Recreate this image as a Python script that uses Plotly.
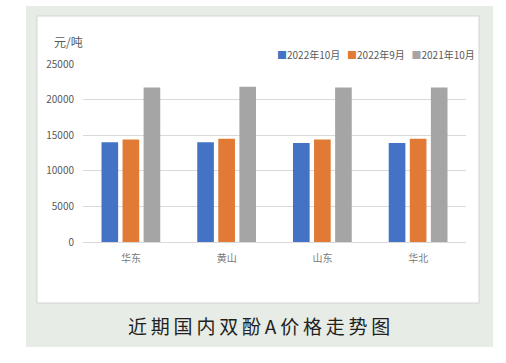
import plotly.graph_objects as go

categories = ["华东", "黄山", "山东", "华北"]
series_names = ["2022年10月", "2022年9月", "2021年10月"]
oct_2022 = [14000, 14000, 13900, 13900]
sep_2022 = [14400, 14500, 14400, 14500]
oct_2021 = [21700, 21800, 21700, 21700]
y_ticks = [0, 5000, 10000, 15000, 20000, 25000]
colors = ["#4472C4", "#E07A35", "#A5A5A5"]
chart_title = "近期国内双酚A价格走势图"
unit_label = "元/吨"

W, H = 506, 363
L, R, T, B = 83, 466, 64, 242  # plot area in px

def px(x):
    return (x - L) / (R - L)

def py(y):
    return (B - y) / (B - T)

fig = go.Figure()
for name, vals, c in zip(series_names, [oct_2022, sep_2022, oct_2021], colors):
    fig.add_trace(go.Bar(x=categories, y=vals, name=name, marker=dict(color=c, line=dict(width=0)),
                         hoverinfo="skip"))

font_cjk = "Noto Sans CJK SC"
legend_html = "&nbsp;&nbsp; ".join(
    f"<span style='color:{c}'>■</span>{n}" for n, c in zip(series_names, colors)
)
spaced_title = "\u2009".join(chart_title)

fig.update_layout(
    width=W, height=H,
    margin=dict(l=L, r=W - R, t=T, b=H - B),
    paper_bgcolor="white",
    plot_bgcolor="rgba(0,0,0,0)",
    barmode="group",
    bargap=0.34,
    bargroupgap=0.21,
    font=dict(family=font_cjk, size=10, color="#595959"),
    showlegend=False,
    xaxis=dict(showgrid=False, showline=True, linecolor="#d9d9d9", linewidth=1,
               tickfont=dict(size=10, color="#7a7a7a"), ticks="", fixedrange=True,
               ticklabelstandoff=7),
    yaxis=dict(range=[0, 25000], tickvals=y_ticks, ticktext=[str(v) for v in y_ticks],
               showgrid=True, gridcolor="#d9d9d9", gridwidth=1, zeroline=False,
               tickfont=dict(size=10, color="#595959"), ticks="", ticklen=0,
               ticklabelstandoff=8, fixedrange=True),
    shapes=[
        dict(type="rect", xref="paper", yref="paper", x0=px(26), x1=px(493), y0=py(347), y1=py(6),
             fillcolor="#E7ECE7", line=dict(width=0), layer="below"),
        dict(type="rect", xref="paper", yref="paper", x0=px(37), x1=px(479), y0=py(303), y1=py(16),
             fillcolor="white", line=dict(color="#D3D6D3", width=1), layer="below"),
    ],
    annotations=[
        dict(text=unit_label, xref="paper", yref="paper", x=px(52), y=py(41), xanchor="left", yanchor="middle",
             showarrow=False, font=dict(size=12, color="#595959", family=font_cjk)),
        dict(text=legend_html, xref="paper", yref="paper", x=px(477), y=py(54), xanchor="right", yanchor="middle",
             showarrow=False, font=dict(size=10, color="#595959", family=font_cjk)),
        dict(text=spaced_title, xref="paper", yref="paper", x=px(259), y=py(325),
             xanchor="center", yanchor="middle", showarrow=False,
             font=dict(size=19, color="#231F20", family=font_cjk)),
    ],
)

fig.write_html("out.html", config={"displayModeBar": False},
               post_script="document.body.style.margin='0';")
